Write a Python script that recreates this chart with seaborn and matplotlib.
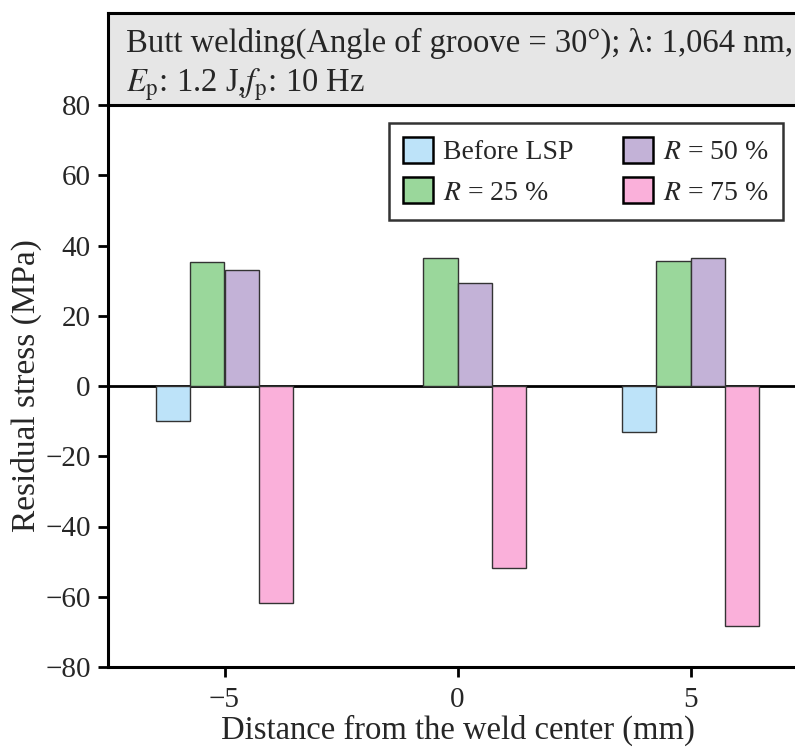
import numpy as np
import pandas as pd
import matplotlib
matplotlib.use('Agg')
import matplotlib.pyplot as plt
import seaborn as sns

# values
distance = [-5, 0, 5]
series = ['Before LSP', r'$R$ = 25 %', r'$R$ = 50 %', r'$R$ = 75 %']
before_lsp = [-10.0, np.nan, -13.0]
r25 = [35.3, 36.3, 35.6]
r50 = [33.0, 29.2, 36.3]
r75 = [-61.8, -51.9, -68.4]
colors = ['#bde3f9', '#9ad79b', '#c3b2d7', '#fab0da']

rows = []
for name, vals in zip(series, [before_lsp, r25, r50, r75]):
    for d, v in zip(distance, vals):
        rows.append({'Distance': d, 'Stress': v, 'Series': name})
df = pd.DataFrame(rows)

sns.set_style('ticks')
plt.rcParams['font.family'] = ['Liberation Serif', 'DejaVu Serif']
plt.rcParams['mathtext.fontset'] = 'stix'
plt.rcParams['axes.unicode_minus'] = True

fig = plt.figure(figsize=(7.95, 7.48), dpi=100)
W, H = 795, 748
x0, x1 = 108, 807
y_top, y_bot = 105, 667
ax = fig.add_axes([x0 / W, 1 - y_bot / H, (x1 - x0) / W, (y_bot - y_top) / H])

sns.barplot(data=df, x='Distance', y='Stress', hue='Series', hue_order=series,
            palette=colors, saturation=1, native_scale=True, width=0.592, dodge=True,
            edgecolor='#333333', linewidth=1.0, errorbar=None, ax=ax)

ax.axhline(0, color='black', lw=2, zorder=0.5)
ax.set_xlim(-7.5, 7.5)
ax.set_ylim(-80, 80)
ax.set_xticks([-5, 0, 5])
ax.set_yticks(np.arange(-80, 81, 20))
ax.set_xlabel('Distance from the weld center (mm)', fontsize=23.5, labelpad=1)
ax.set_ylabel('Residual stress (MPa)', fontsize=24, labelpad=2)
ax.tick_params(axis='both', labelsize=21, length=7.5, width=2, direction='out', color='black')
ax.tick_params(axis='y', pad=5)
ax.tick_params(axis='x', pad=7)
for s in ['left', 'bottom']:
    ax.spines[s].set_linewidth(2.2)
    ax.spines[s].set_color('black')
ax.spines['top'].set_visible(False)
ax.spines['right'].set_visible(False)

leg = ax.legend(ncol=2, loc='upper left', bbox_to_anchor=(0.402, 0.968), borderaxespad=0,
                fontsize=20, frameon=True, fancybox=False, edgecolor='black',
                handlelength=1.1, handleheight=1.08, handletextpad=0.36,
                columnspacing=1.75, labelspacing=0.42, borderpad=0.5)
leg.get_frame().set_linewidth(1.8)
for h in leg.legend_handles:
    h.set_edgecolor('black')
    h.set_linewidth(1.8)

# grey header box above the plot
box_top = 13
tax = fig.add_axes([x0 / W, 1 - y_top / H, (x1 - x0) / W, (y_top - box_top) / H])
tax.set_facecolor('#e6e6e6')
tax.set_xticks([])
tax.set_yticks([])
for s in tax.spines.values():
    s.set_linewidth(2.2)
    s.set_color('black')
tax.text(0.026, 0.67, 'Butt welding(Angle of groove = 30°); λ: 1,064 nm,',
         transform=tax.transAxes, fontsize=23.5, va='center', ha='left')
tax.text(0.026, 0.22, r'$E_\mathrm{p}$: 1.2 J,$f_\mathrm{p}$: 10 Hz',
         transform=tax.transAxes, fontsize=23.5, va='center', ha='left')

fig.savefig('out.png', dpi=100)
